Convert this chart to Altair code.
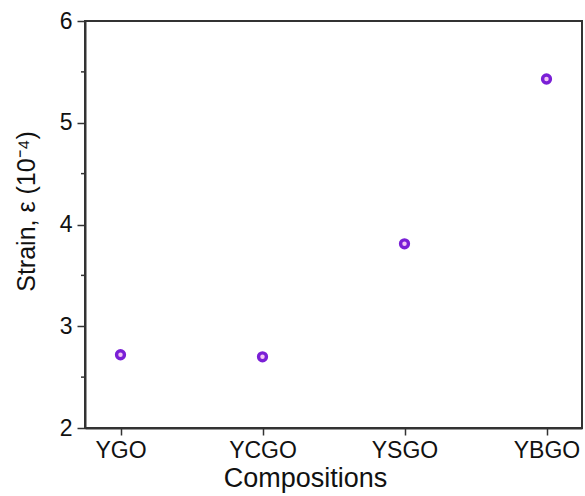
import altair as alt
import pandas as pd

compositions = ["YGO", "YCGO", "YSGO", "YBGO"]
strain = [2.72, 2.70, 3.81, 5.43]
major_ticks = [2, 3, 4, 5, 6]
minor_ticks = [2.5, 3.5, 4.5, 5.5]

df = pd.DataFrame({"comp": compositions, "strain": strain})
minor_df = pd.DataFrame({"v": minor_ticks})

FONT = "Liberation Sans"

x_enc = alt.X("comp:N", sort=compositions,
              scale=alt.Scale(type="point", padding=0.25),
              axis=alt.Axis(title="Compositions", labelAngle=0, labelFontSize=23,
                            titleFontSize=27, titleFontWeight="normal", labelColor="#111",
                            titleColor="#111", domainColor="#333", domainWidth=2,
                            tickColor="#333", tickWidth=1.5, tickSize=7,
                            labelPadding=4, titlePadding=3, titleX=220,
                            labelFont=FONT, titleFont=FONT))
y_scale = alt.Scale(domain=[2, 6], nice=False, zero=False)
y_axis = alt.Axis(title="Strain, ε (10⁻⁴)", values=major_ticks, format="d",
                  labelFontSize=23, titleFontSize=25, titleFontWeight="normal",
                  labelColor="#111", titleColor="#111", domainColor="#333",
                  domainWidth=2, tickColor="#333", tickWidth=1.5, tickSize=8,
                  labelPadding=5, titlePadding=20, titleY=190, grid=False,
                  labelFont=FONT, titleFont=FONT)

outer = alt.Chart(df).mark_point(filled=False, stroke="#7a1fd6", strokeWidth=3.4,
                                 size=62, fill="#f3c4f5", fillOpacity=1).encode(
    x=x_enc, y=alt.Y("strain:Q", scale=y_scale, axis=y_axis))

minor = alt.Chart(minor_df).mark_rule(color="#333", strokeWidth=1.5).encode(
    y=alt.Y("v:Q", scale=y_scale, axis=y_axis),
    x=alt.value(-4), x2=alt.value(0))

chart = alt.layer(outer, minor).properties(
    width=497, height=407,
    padding={"left": 85, "top": 21, "right": 3, "bottom": 68},
    autosize=alt.AutoSizeParams(type="none"),
    background="white",
).configure_view(stroke="#333", strokeWidth=2).configure_axis(grid=False)

chart.save("out.html", embed_options={"renderer": "svg", "actions": False})
